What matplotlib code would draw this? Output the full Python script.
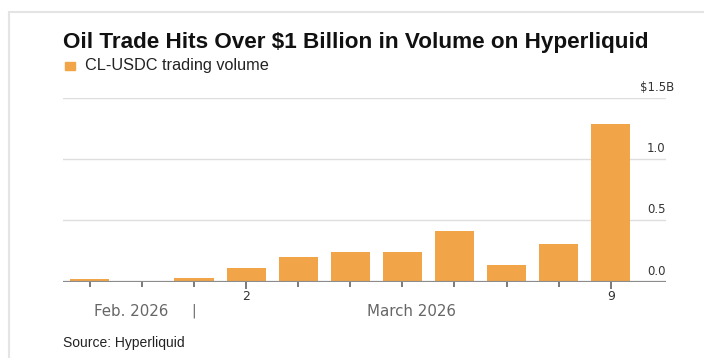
import numpy as np
import matplotlib.pyplot as plt
from matplotlib.patches import Rectangle

# daily CL-USDC volume on Hyperliquid, $ billions
days = ['Feb 27', 'Feb 28', 'Mar 1', 'Mar 2', 'Mar 3', 'Mar 4', 'Mar 5',
        'Mar 6', 'Mar 7', 'Mar 8', 'Mar 9']
volume = [0.02, 0.006, 0.03, 0.11, 0.20, 0.24, 0.24, 0.41, 0.14, 0.31, 1.29]
tick_text = {'Mar 2': '2', 'Mar 9': '9'}
y_ticks = [0.0, 0.5, 1.0, 1.5]
y_labels = ['0.0', '0.5', '1.0', '$1.5B']

W, H = 704, 358
fig = plt.figure(figsize=(W / 100, H / 100), dpi=100)
fig.patch.set_facecolor('white')

def px(x, y):
    return x / W, 1 - y / H

# card outline
fig.add_artist(Rectangle(px(9, 400), (W + 10) / W, (400 - 12) / H,
                         transform=fig.transFigure, fill=False,
                         ec='#e4e4e4', lw=1.5))

ax_l, ax_r = 63, 666
ax_top, ax_bot = 98, 281.7
ax = fig.add_axes([ax_l / W, 1 - ax_bot / H, (ax_r - ax_l) / W, (ax_bot - ax_top) / H])

x = np.arange(len(days))
ax.bar(x, volume, width=0.75, color='#f2a548', zorder=2)
ax.set_xlim(-0.515, 11.06)
ax.set_ylim(0, 1.5)

for v in y_ticks[1:]:
    ax.axhline(v, color='#dedede', lw=1.0, zorder=1)
ax.axhline(0, color='#8c8c8c', lw=1.6, zorder=3)

for s in ax.spines.values():
    s.set_visible(False)
ax.set_yticks([])

# x ticks: short at every day, longer at labelled ones
major = [i for i, d in enumerate(days) if d in tick_text]
minor = [i for i, d in enumerate(days) if d not in tick_text]
ax.set_xticks(major)
ax.set_xticklabels([tick_text[days[i]] for i in major], fontsize=9,
                   color='#333333', family='DejaVu Sans')
ax.set_xticks(minor, minor=True)
ax.tick_params(axis='x', which='major', length=5, width=1.1, color='#555555', pad=1)
ax.tick_params(axis='x', which='minor', length=3.5, width=1.1, color='#555555')

# right-side value labels above gridlines
for v, lab in zip(y_ticks, y_labels):
    xpos = 640 if lab.startswith('$') else 647
    ax.annotate(lab, xy=(xpos / W, 1 - (281.7 - v / 1.5 * 183.7) / H),
                xycoords='figure fraction', xytext=(0, 3), textcoords='offset points',
                ha='left', va='bottom', fontsize=8.5, color='#333333',
                family='DejaVu Sans')

# month labels
fig.text(*px(131, 311), 'Feb. 2026', ha='center', va='center', fontsize=10.8,
         color='#666666', family='DejaVu Sans')
fig.text(*px(194, 311), '|', ha='center', va='center', fontsize=10,
         color='#666666', family='DejaVu Sans')
fig.text(*px(411, 311), 'March 2026', ha='center', va='center', fontsize=10.8,
         color='#666666', family='DejaVu Sans')

# title, legend, source
fig.text(*px(63, 42.5), 'Oil Trade Hits Over $1 Billion in Volume on Hyperliquid',
         ha='left', va='center', fontsize=16.2, fontweight='bold',
         family='Liberation Sans', color='#111111')
fig.add_artist(Rectangle(px(65, 69.5), 10 / W, 8 / H, transform=fig.transFigure,
                         color='#f2a548'))
fig.text(*px(85, 65.5), 'CL-USDC trading volume', ha='left', va='center',
         fontsize=11.7, family='Liberation Sans', color='#222222')
fig.text(*px(63, 342.7), 'Source: Hyperliquid', ha='left', va='center',
         fontsize=10, family='Liberation Sans', color='#222222')

fig.savefig('out.png', dpi=100)
